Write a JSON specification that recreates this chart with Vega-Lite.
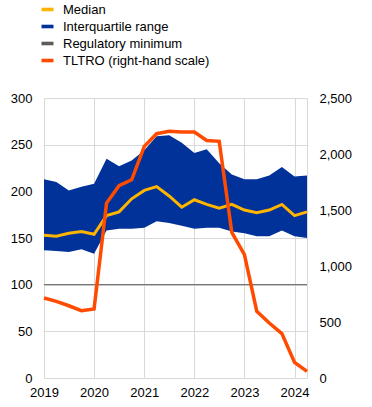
{
  "$schema": "https://vega.github.io/schema/vega-lite/v6.json",
  "width": 263,
  "height": 280,
  "autosize": {"type": "none"},
  "padding": {"left": 44, "top": 98, "right": 65, "bottom": 29},
  "config": {
    "font": "Liberation Sans",
    "view": {"stroke": null},
    "axis": {"labelFontSize": 13, "labelColor": "#000000", "labelFont": "Liberation Sans", "gridColor": "#d9d9d9", "gridWidth": 1}
  },
  "datasets": {
    "banks": [
      {"date": "2019-01-01", "median": 153, "q1": 137, "q3": 213, "tltro": 714},
      {"date": "2019-04-01", "median": 152, "q1": 136, "q3": 210, "tltro": 684},
      {"date": "2019-07-01", "median": 155, "q1": 135, "q3": 201, "tltro": 645},
      {"date": "2019-10-01", "median": 157, "q1": 138, "q3": 205, "tltro": 601},
      {"date": "2020-01-01", "median": 154, "q1": 133, "q3": 208, "tltro": 616},
      {"date": "2020-04-01", "median": 174, "q1": 158, "q3": 235, "tltro": 1562},
      {"date": "2020-07-01", "median": 178, "q1": 160, "q3": 227, "tltro": 1717},
      {"date": "2020-10-01", "median": 192, "q1": 160, "q3": 233, "tltro": 1770},
      {"date": "2021-01-01", "median": 201, "q1": 161, "q3": 244, "tltro": 2068},
      {"date": "2021-04-01", "median": 205, "q1": 168, "q3": 259, "tltro": 2181},
      {"date": "2021-07-01", "median": 195, "q1": 166, "q3": 260, "tltro": 2202},
      {"date": "2021-10-01", "median": 183, "q1": 163, "q3": 252, "tltro": 2196},
      {"date": "2022-01-01", "median": 191, "q1": 160, "q3": 241, "tltro": 2196},
      {"date": "2022-04-01", "median": 186, "q1": 161, "q3": 245, "tltro": 2121},
      {"date": "2022-07-01", "median": 182, "q1": 161, "q3": 230, "tltro": 2113},
      {"date": "2022-10-01", "median": 186, "q1": 157, "q3": 218, "tltro": 1300},
      {"date": "2023-01-01", "median": 180, "q1": 155, "q3": 213, "tltro": 1101},
      {"date": "2023-04-01", "median": 177, "q1": 152, "q3": 213, "tltro": 595},
      {"date": "2023-07-01", "median": 180, "q1": 152, "q3": 217, "tltro": 491},
      {"date": "2023-10-01", "median": 186, "q1": 158, "q3": 226, "tltro": 396},
      {"date": "2024-01-01", "median": 174, "q1": 152, "q3": 216, "tltro": 139},
      {"date": "2024-04-01", "median": 178, "q1": 150, "q3": 217, "tltro": 59}
    ],
    "minimum": [{"level": 100}]
  },
  "data": {"name": "banks"},
  "layer": [
    {
      "layer": [
        {
          "mark": {"type": "area", "opacity": 1},
          "encoding": {
            "x": {
              "field": "date", "type": "temporal",
              "scale": {"type": "utc", "nice": false, "domain": [{"year": 2019, "month": 1, "date": 1, "utc": true}, {"year": 2024, "month": 4, "date": 1, "utc": true}]},
              "axis": {"title": null, "format": "%Y", "grid": true, "domain": false, "ticks": false, "labelPadding": 8, "labelFlush": false, "tickCount": {"interval": "year", "step": 1}}
            },
            "y": {"field": "q3", "type": "quantitative", "scale": {"domain": [0, 300], "nice": false},
              "axis": {"title": null, "values": [0, 50, 100, 150, 200, 250, 300], "grid": true, "domain": false, "ticks": false, "labelPadding": 12}},
            "y2": {"field": "q1"},
            "color": {
              "datum": "Interquartile range",
              "scale": {"domain": ["Median", "Interquartile range", "Regulatory minimum", "TLTRO (right-hand scale)"], "range": ["#FFB400", "#003299", "#5C5C5C", "#FF4B00"]},
              "legend": {
                "title": null, "orient": "none", "legendX": -3, "legendY": -95, "padding": 0, "rowPadding": 3, "labelOffset": 9,
                "labelFontSize": 13, "labelFont": "Liberation Sans", "labelColor": "#000000",
                "symbolType": "M-1,-0.3H1V0.3H-1Z", "symbolSize": 144, "symbolStrokeWidth": 0, "symbolOpacity": 1
              }
            }
          }
        },
        {
          "mark": {"type": "line", "strokeWidth": 3},
          "encoding": {
            "x": {"field": "date", "type": "temporal"},
            "y": {"field": "median", "type": "quantitative"},
            "color": {"datum": "Median"}
          }
        },
        {
          "data": {"name": "minimum"},
          "mark": {"type": "rule", "strokeWidth": 1},
          "encoding": {
            "y": {"field": "level", "type": "quantitative"},
            "color": {"datum": "Regulatory minimum"}
          }
        }
      ]
    },
    {
      "mark": {"type": "line", "strokeWidth": 3.5},
      "encoding": {
        "x": {"field": "date", "type": "temporal"},
        "y": {"field": "tltro", "type": "quantitative", "scale": {"domain": [0, 2500], "nice": false},
          "axis": {"title": null, "orient": "right", "values": [0, 500, 1000, 1500, 2000, 2500], "format": ",.0f", "grid": false, "ticks": false, "domain": true, "domainColor": "#d9d9d9", "labelPadding": 12}},
        "color": {"datum": "TLTRO (right-hand scale)"}
      }
    }
  ],
  "resolve": {"scale": {"y": "independent"}}
}
